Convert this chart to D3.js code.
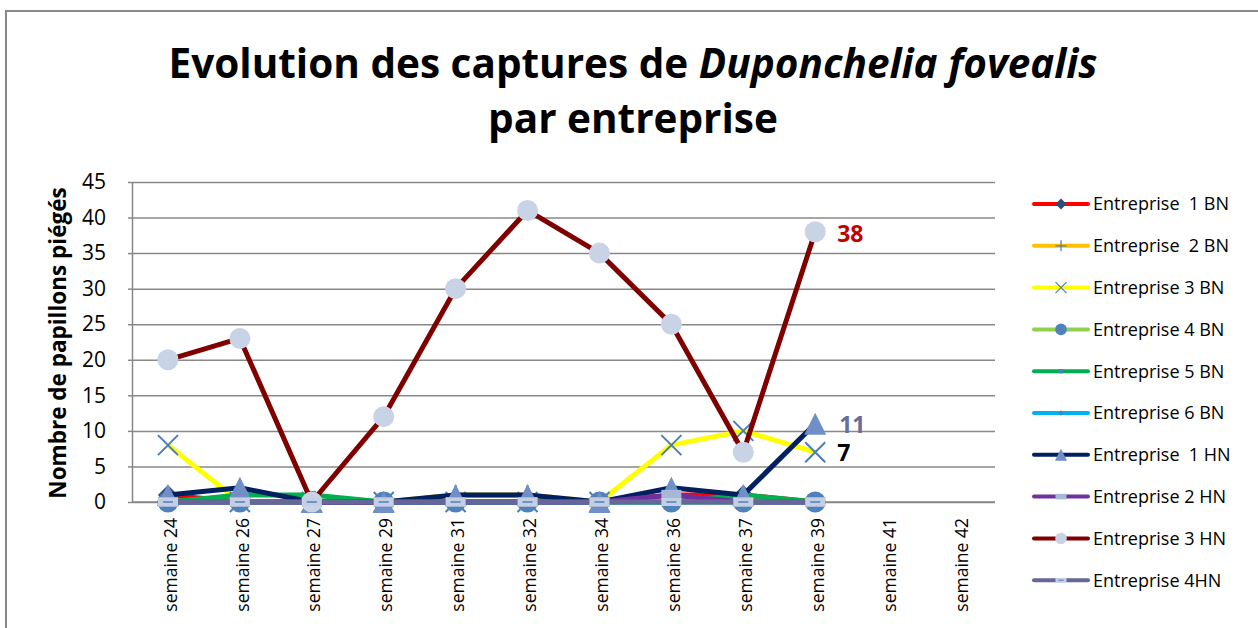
<!DOCTYPE html>
<html>
<head>
<meta charset="utf-8">
<script src="https://cdn.jsdelivr.net/npm/d3@7"></script>
<style>
  body { margin: 0; background: #fff; }
  text { font-family: "Open Sans", "Noto Sans", sans-serif; }
</style>
</head>
<body>
<div id="chart-area"></div>
<script>
// Categories and values
var weeks = ["semaine 24", "semaine 26", "semaine 27", "semaine 29", "semaine 31",
  "semaine 32", "semaine 34", "semaine 36", "semaine 37", "semaine 39", "semaine 41", "semaine 42"];
var yTicks = [0, 5, 10, 15, 20, 25, 30, 35, 40, 45];

var ent1BN = [1, 0, 0, 0, 0, 0, 0, 1, 1, 0];
var ent2BN = [0, 0, 0, 0, 1, 1, 0, 0, 0, 0];
var ent3BN = [8, 0, 0, 0, 0, 0, 0, 8, 10, 7];
var ent4BN = [0, 0, 0, 0, 0, 0, 0, 0, 0, 0];
var ent5BN = [0, 1, 1, 0, 0, 0, 0, 0, 1, 0];
var ent6BN = [0, 0, 0, 0, 0, 0, 0, 0, 0, 0];
var ent1HN = [1, 2, 0, 0, 1, 1, 0, 2, 1, 11];
var ent2HN = [0, 0, 0, 0, 0, 0, 0, 1, 0, 0];
var ent3HN = [20, 23, 0, 12, 30, 41, 35, 25, 7, 38];
var ent4HN = [0, 0, 0, 0, 0, 0, 0, 0, 0, 0];

var seriesNames = ["Entreprise  1 BN", "Entreprise  2 BN", "Entreprise 3 BN", "Entreprise 4 BN",
  "Entreprise 5 BN", "Entreprise 6 BN", "Entreprise  1 HN", "Entreprise 2 HN", "Entreprise 3 HN", "Entreprise 4HN"];

// styles for each series (same order)
var styles = [
  { line: "#ff0000", marker: "diamond", fill: "#2c4d75", size: 10 },
  { line: "#ffc000", marker: "plus", fill: "#4a7ebb", size: 10 },
  { line: "#ffff00", marker: "x", fill: "#4a7ebb", size: 10 },
  { line: "#92d050", marker: "circle", fill: "#4f81bd", size: 10.5 },
  { line: "#00b050", marker: "square", fill: "#4f81bd", size: 4 },
  { line: "#00b0f0", marker: "diamond", fill: "#4f81bd", size: 5 },
  { line: "#002060", marker: "triangle", fill: "#6f8fc6", size: 11 },
  { line: "#7030a0", marker: "rect", fill: "#a7b7d6", size: 10 },
  { line: "#800000", marker: "circle", fill: "#c9d3e6", size: 10.5 },
  { line: "#666699", marker: "dash", fill: "#c5cfe4", size: 10 }
];

var series = [ent1BN, ent2BN, ent3BN, ent4BN, ent5BN, ent6BN, ent1HN, ent2HN, ent3HN, ent4HN]
  .map(function(v, i){ return { name: seriesNames[i], values: v, style: styles[i] }; });

var width = 1258, height = 628;
var plot = { left: 132, right: 995, top: 182, bottom: 502 };

var svg = d3.select("#chart-area").append("svg")
  .attr("width", width)
  .attr("height", height);

// outer chart border
svg.append("rect")
  .attr("x", 6).attr("y", 11)
  .attr("width", 1262).attr("height", 640)
  .attr("fill", "none")
  .attr("stroke", "#878787")
  .attr("stroke-width", 2);

// Title
var title = svg.append("text")
  .attr("x", 633).attr("y", 78)
  .attr("text-anchor", "middle")
  .attr("font-size", "40.5px")
  .attr("font-weight", "bold");
title.append("tspan").text("Evolution des captures de ");
title.append("tspan").attr("font-style", "italic").text("Duponchelia fovealis");
svg.append("text")
  .attr("x", 633).attr("y", 133)
  .attr("text-anchor", "middle")
  .attr("font-size", "40.5px")
  .attr("font-weight", "bold")
  .text("par entreprise");

// Scales
var x = d3.scalePoint()
  .domain(weeks)
  .range([plot.left, plot.right])
  .padding(0.5);

var y = d3.scaleLinear()
  .domain([0, 45])
  .range([plot.bottom, plot.top]);

// Gridlines
svg.append("g")
  .attr("class", "grid")
  .attr("transform", "translate(" + plot.left + ",0)")
  .call(d3.axisLeft(y).tickValues(yTicks).tickSize(-(plot.right - plot.left)).tickFormat(""))
  .call(function(g){ g.select(".domain").remove(); })
  .selectAll("line")
    .attr("stroke", "#888")
    .attr("stroke-width", 1.5);

// Y axis
var yAxis = svg.append("g")
  .attr("transform", "translate(" + plot.left + ",0)")
  .call(d3.axisLeft(y).tickValues(yTicks).tickSize(4).tickSizeOuter(0).tickPadding(22));
yAxis.select(".domain").attr("stroke", "#888").attr("stroke-width", 1.5);
yAxis.selectAll("line").attr("stroke", "#888").attr("stroke-width", 1.5);
yAxis.selectAll("text")
  .attr("font-size", "21px")
  .attr("fill", "#000")
  .style("font-family", "'Open Sans', sans-serif");

// X axis
var xAxis = svg.append("g")
  .attr("transform", "translate(0," + plot.bottom + ")")
  .call(d3.axisBottom(x).tickSize(0).tickSizeOuter(0));
xAxis.select(".domain")
  .attr("d", "M" + plot.left + ",0H" + plot.right)
  .attr("stroke", "#888").attr("stroke-width", 1.5);
xAxis.selectAll("text")
  .attr("transform", "rotate(-90)")
  .attr("text-anchor", "end")
  .attr("x", -16)
  .attr("y", 2)
  .attr("dy", "0.35em")
  .attr("font-size", "17.5px")
  .attr("fill", "#000")
  .style("font-family", "'Open Sans', sans-serif");

// Y label
svg.append("text")
  .attr("transform", "rotate(-90)")
  .attr("x", -343)
  .attr("y", 66)
  .attr("text-anchor", "middle")
  .attr("font-size", "22.5px")
  .attr("font-weight", "bold")
  .text("Nombre de papillons piégés");

// marker shapes
function markerPath(type, s) {
  if (type === "circle") return "M" + (-s) + ",0a" + s + "," + s + " 0 1,0 " + (2 * s) + ",0a" + s + "," + s + " 0 1,0 " + (-2 * s) + ",0Z";
  if (type === "triangle") return "M0," + (-s) + "L" + s + "," + s + "L" + (-s) + "," + s + "Z";
  if (type === "diamond") return "M0," + (-s) + "L" + s + ",0L0," + s + "L" + (-s) + ",0Z";
  if (type === "square") return "M" + (-s) + "," + (-s) + "h" + (2 * s) + "v" + (2 * s) + "h" + (-2 * s) + "Z";
  if (type === "rect") return "M" + (-s) + "," + (-s * 0.5) + "h" + (2 * s) + "v" + s + "h" + (-2 * s) + "Z";
  if (type === "dash") return "M" + (-s) + "," + (-s * 0.4) + "h" + (2 * s) + "v" + (0.8 * s) + "h" + (-2 * s) + "Z";
  if (type === "x") return "M" + (-s) + "," + (-s) + "L" + s + "," + s + "M" + (-s) + "," + s + "L" + s + "," + (-s);
  if (type === "plus") return "M" + (-s) + ",0H" + s + "M0," + (-s) + "V" + s;
  return "";
}

function drawMarker(g, st, scale) {
  var s = st.size * scale;
  var p = g.append("path").attr("d", markerPath(st.marker, s));
  if (st.marker === "x" || st.marker === "plus") {
    p.attr("fill", "none").attr("stroke", st.fill).attr("stroke-width", 2 * Math.max(scale, 0.6));
  } else {
    p.attr("fill", st.fill);
  }
  if (st.marker === "dash") {
    g.append("path")
      .attr("d", "M" + (-s * 0.5) + ",0H" + (s * 0.5))
      .attr("stroke", "#4f81bd")
      .attr("stroke-width", 1.5 * Math.max(scale, 0.7));
  }
}

// Lines and markers, series by series
var line = d3.line()
  .x(function(d, i){ return x(weeks[i]); })
  .y(function(d){ return y(d); });

series.forEach(function(s){
  var g = svg.append("g");
  g.append("path")
    .datum(s.values)
    .attr("fill", "none")
    .attr("stroke", s.style.line)
    .attr("stroke-width", 5)
    .attr("stroke-linejoin", "round")
    .attr("d", line);

  g.selectAll(".mk")
    .data(s.values)
    .enter()
    .append("g")
      .attr("class", "mk")
      .attr("transform", function(d, i){ return "translate(" + x(weeks[i]) + "," + y(d) + ")"; })
      .each(function(){ drawMarker(d3.select(this), s.style, 1); });
});

// Data labels at last point
var last = 9;
var dataLabels = [
  { values: ent3HN, color: "#c00000", dx: 22, dy: 2 },
  { values: ent1HN, color: "#6b6b9c", dx: 24, dy: 1 },
  { values: ent3BN, color: "#000000", dx: 22, dy: 1 }
];
dataLabels.forEach(function(l){
  svg.append("text")
    .attr("x", x(weeks[last]) + l.dx)
    .attr("y", y(l.values[last]) + l.dy)
    .attr("dy", "0.35em")
    .attr("font-size", "23px")
    .attr("font-weight", "bold")
    .attr("fill", l.color)
    .text(l.values[last]);
});

// Legend
var legend = svg.append("g");
series.forEach(function(s, i){
  var yy = 204 + i * 41.8;
  var row = legend.append("g").attr("transform", "translate(0," + yy + ")");
  row.append("line")
    .attr("x1", 1034).attr("x2", 1088)
    .attr("stroke", s.style.line)
    .attr("stroke-width", 4)
    .attr("stroke-linecap", "round");
  var mk = row.append("g").attr("transform", "translate(1061,0)");
  drawMarker(mk, s.style, 0.55);
  row.append("text")
    .attr("x", 1093)
    .attr("dy", "0.35em")
    .attr("font-size", "18px")
    .style("white-space", "pre")
    .text(s.name);
});
</script>
</body>
</html>
